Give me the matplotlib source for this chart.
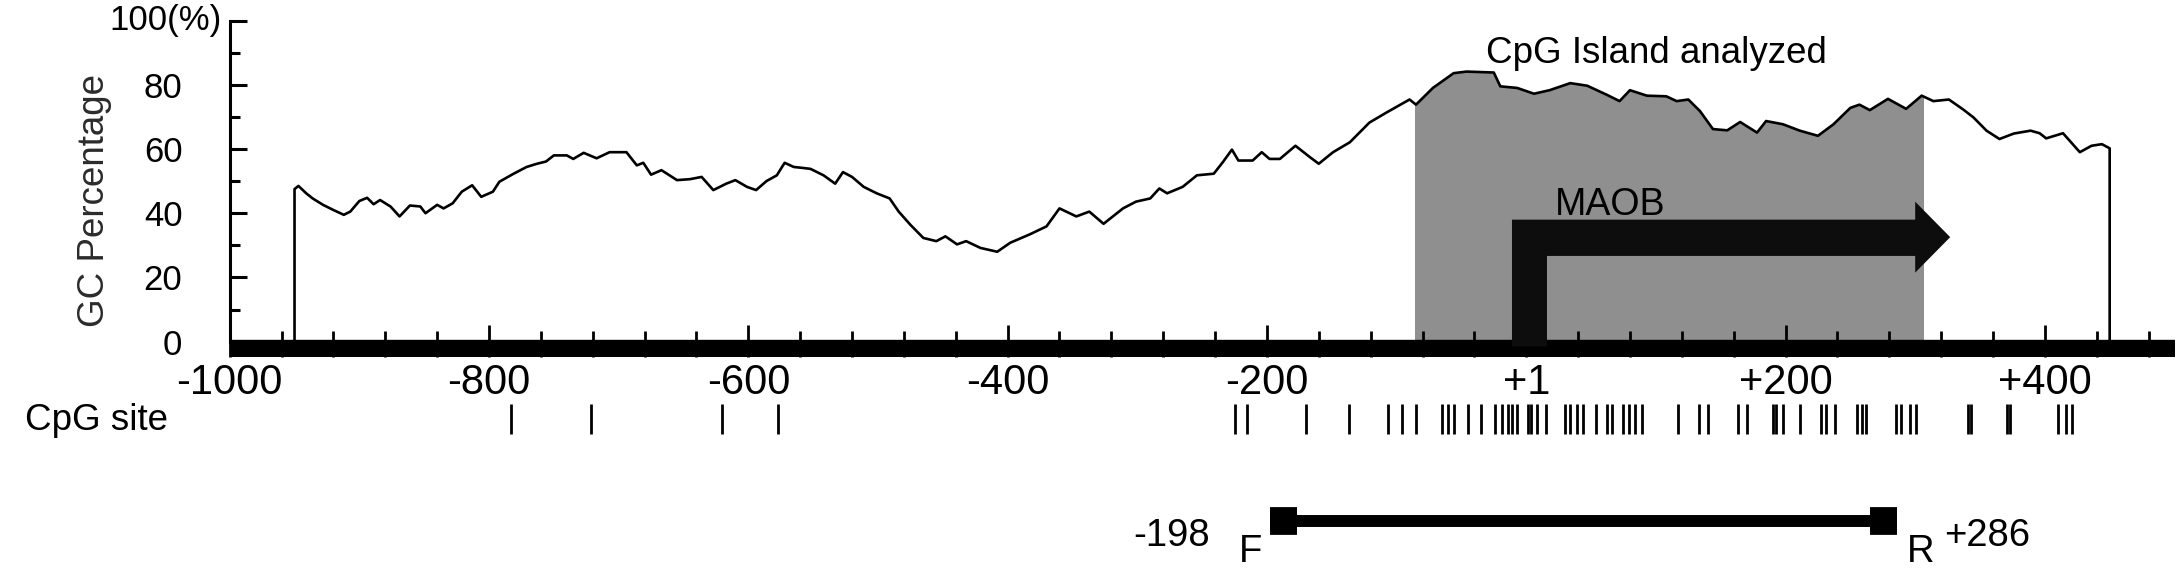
import numpy as np
import matplotlib.pyplot as plt
from matplotlib.patches import Polygon, Rectangle

plt.rcParams['font.family'] = ['Liberation Sans', 'DejaVu Sans']

# GC percentage profile (position relative to TSS, % GC)
gc_pos = [-950, -950, -947, -941, -936, -928, -920, -912, -907, -900, -894, -889, -884,
          -876, -869, -861, -853, -849, -840, -835, -828, -821, -813, -806, -797, -792,
          -781, -771, -763, -756, -750, -740, -735, -727, -717, -707, -694, -686, -681,
          -675, -667, -655, -645, -636, -627, -617, -610, -601, -594, -586, -578, -572,
          -565, -558, -552, -542, -533, -527, -520, -511, -501, -491, -484, -475, -465,
          -455, -448, -439, -432, -421, -408, -398, -383, -370, -360, -347, -337, -326,
          -311, -301, -290, -283, -277, -265, -254, -241, -234, -227, -222, -211, -204,
          -198, -190, -178, -167, -160, -149, -136, -121, -108, -90, -85, -72, -56, -46,
          -25, -20, -7, 6, 18, 34, 47, 62, 72, 80, 93, 108, 116, 125, 134, 144, 155, 165,
          178, 185, 198, 211, 225, 237, 250, 257, 265, 279, 293, 305, 314, 326, 337, 345,
          355, 365, 376, 389, 396, 401, 414, 427, 436, 444, 450, 450]
gc_pct = [0, 47.5, 48.5, 46.2, 44.6, 42.6, 41.0, 39.5, 40.5, 43.8, 44.8, 42.8, 44.1,
          42.1, 39.0, 42.4, 42.1, 40.0, 42.6, 41.5, 43.1, 46.7, 48.7, 45.1, 46.7, 49.8,
          52.3, 54.4, 55.4, 56.1, 58.0, 58.0, 56.9, 58.8, 57.1, 59.0, 59.0, 54.9, 55.7,
          52.0, 53.4, 50.3, 50.6, 51.3, 47.2, 49.2, 50.3, 48.2, 47.2, 50.0, 51.8, 55.7,
          54.4, 54.1, 53.8, 51.8, 49.2, 52.8, 51.3, 48.2, 46.2, 44.6, 40.5, 36.4, 32.3,
          31.3, 32.8, 30.3, 31.3, 29.2, 28.0, 30.8, 33.4, 35.9, 41.5, 39.0, 40.5, 36.7,
          41.5, 43.6, 44.6, 47.7, 46.2, 48.2, 51.8, 52.3, 55.9, 59.8, 56.4, 56.4, 59.0,
          56.9, 56.9, 61.0, 57.5, 55.4, 59.0, 62.1, 68.2, 71.3, 75.4, 73.8, 79.0, 83.6, 84.1,
          83.8, 79.5, 79.0, 77.2, 78.3, 80.5, 79.7, 76.9, 74.9, 78.3, 76.6, 76.4, 74.9, 75.4,
          71.8, 66.2, 65.8, 68.4, 65.1, 68.7, 67.7, 65.7, 64.1, 67.7, 72.8, 73.8, 72.1, 75.6,
          72.5, 76.6, 74.9, 75.4, 72.3, 69.8, 65.7, 63.1, 64.8, 65.7, 64.9, 63.3, 64.9, 59.0,
          61.0, 61.5, 60.2, 0]

# CpG island analysed region
island_start, island_end = -86, 306

# CpG sites
cpg_sites = [-783, -721, -620, -577, -225, -215, -170, -137, -107, -96, -85, -65, -60,
             -56, -45, -35, -24, -19, -14, -11, -7, 1, 4, 8, 15, 30, 34, 39, 44, 54, 62,
             66, 75, 79, 84, 89, 117, 133, 140, 163, 170, 190, 193, 198, 211, 227, 231,
             238, 255, 259, 262, 285, 289, 296, 301, 341, 343, 371, 373, 410, 416, 421]

# primers
primer_f = (-198, -177)
primer_r = (265, 286)

xtick_pos = [-1000, -800, -600, -400, -200, 0, 200, 400]
xtick_labels = ['-1000', '-800', '-600', '-400', '-200', '+1', '+200', '+400']
ytick_pos = [0, 20, 40, 60, 80, 100]
ytick_labels = ['0', '20', '40', '60', '80', '']

W, H = 2182, 571
fig = plt.figure(figsize=(W / 100, H / 100), dpi=100)

ax = fig.add_axes([229.7 / W, 1 - 356.5 / H, 1944.8 / W, 336 / H])
ax.set_xlim(-1000, 500)
ax.set_ylim(-4.61, 100)

# shaded CpG island under the curve
fill = ax.fill_between(gc_pos, gc_pct, 0, color='#8f8f8f', lw=0, zorder=1)
clip = Rectangle((island_start, 0), island_end - island_start, 100,
                 transform=ax.transData)
fill.set_clip_path(clip)

ax.plot(gc_pos, gc_pct, color='black', lw=1.9, zorder=2)

# thick baseline bar
ax.axhspan(-4.61, 0.5, color='black', zorder=3)

# MAOB transcription start arrow
x0, x1 = -11, 16
shaft = (26.7, 38.0)
head_x = (300, 327)
head_y = (21.5, 43.6)
arrow = Polygon([(x0, -1.5), (x0, shaft[1]), (head_x[0], shaft[1]), (head_x[0], head_y[1]),
                 (head_x[1], sum(head_y) / 2), (head_x[0], head_y[0]), (head_x[0], shaft[0]),
                 (x1, shaft[0]), (x1, -1.5)], closed=True, color='#0d0d0d', lw=0, zorder=4)
ax.add_patch(arrow)
ax.text(22, 39.6, 'MAOB', fontsize=27, ha='left', va='baseline')
ax.text(-31, 86.7, 'CpG Island analyzed', fontsize=26.5, ha='left', va='baseline')

for s in ['top', 'right', 'bottom']:
    ax.spines[s].set_visible(False)
ax.spines['left'].set_linewidth(2.2)
ax.spines['left'].set_bounds(0, 100)

ax.set_xticks(xtick_pos)
ax.set_xticklabels(xtick_labels, fontsize=30)
ax.set_xticks(np.arange(-960, 500, 40), minor=True)
ax.tick_params(axis='x', which='major', direction='in', length=23.4, width=2, pad=5)
ax.tick_params(axis='x', which='minor', direction='in', length=19, width=2)

ax.set_yticks(ytick_pos)
ax.set_yticklabels(ytick_labels, fontsize=25)
ax.set_yticks(np.arange(10, 100, 20), minor=True)
ax.tick_params(axis='y', which='major', direction='in', length=12.2, width=2.2, pad=34)
ax.tick_params(axis='y', which='minor', direction='in', length=7.2, width=2.2)

ax.annotate('100(%)', xy=(-1000, 100), xytext=(-6, 0), textcoords='offset points',
            ha='right', va='center', fontsize=25)
fig.text(95 / W, 1 - 200 / H, 'GC Percentage', rotation=90, ha='center', va='center',
         fontsize=26.5, color='#2b2b2b')

# lower panel: CpG sites and primers
ax2 = fig.add_axes([229.7 / W, 0, 1944.8 / W, 176 / H], sharex=ax)
ax2.set_ylim(0, 1)
ax2.axis('off')
ax2.vlines(cpg_sites, 0.778, 0.949, color='black', lw=2.0)
fig.text(25 / W, 1 - 420.6 / H, 'CpG site', fontsize=26.5, ha='left', va='center')

row = 0.284
ax2.plot([primer_f[1], primer_r[0]], [row, row], color='black', lw=8.6, solid_capstyle='butt')
ax2.plot(primer_f, [row, row], color='black', lw=20, solid_capstyle='butt')
ax2.plot(primer_r, [row, row], color='black', lw=20, solid_capstyle='butt')
ax2.annotate(f'{primer_f[0]}', xy=(primer_f[0], row), xytext=(-43, -11),
             textcoords='offset points', ha='right', va='center', fontsize=27.5)
ax2.annotate('F', xy=(primer_f[0], row), xytext=(-14, -22),
             textcoords='offset points', ha='center', va='center', fontsize=27.5)
ax2.annotate('R', xy=(primer_r[1], row), xytext=(17, -22),
             textcoords='offset points', ha='center', va='center', fontsize=27.5)
ax2.annotate(f'+{primer_r[1]}', xy=(primer_r[1], row), xytext=(34, -11),
             textcoords='offset points', ha='left', va='center', fontsize=27.5)

fig.savefig('out.png', dpi=100)
